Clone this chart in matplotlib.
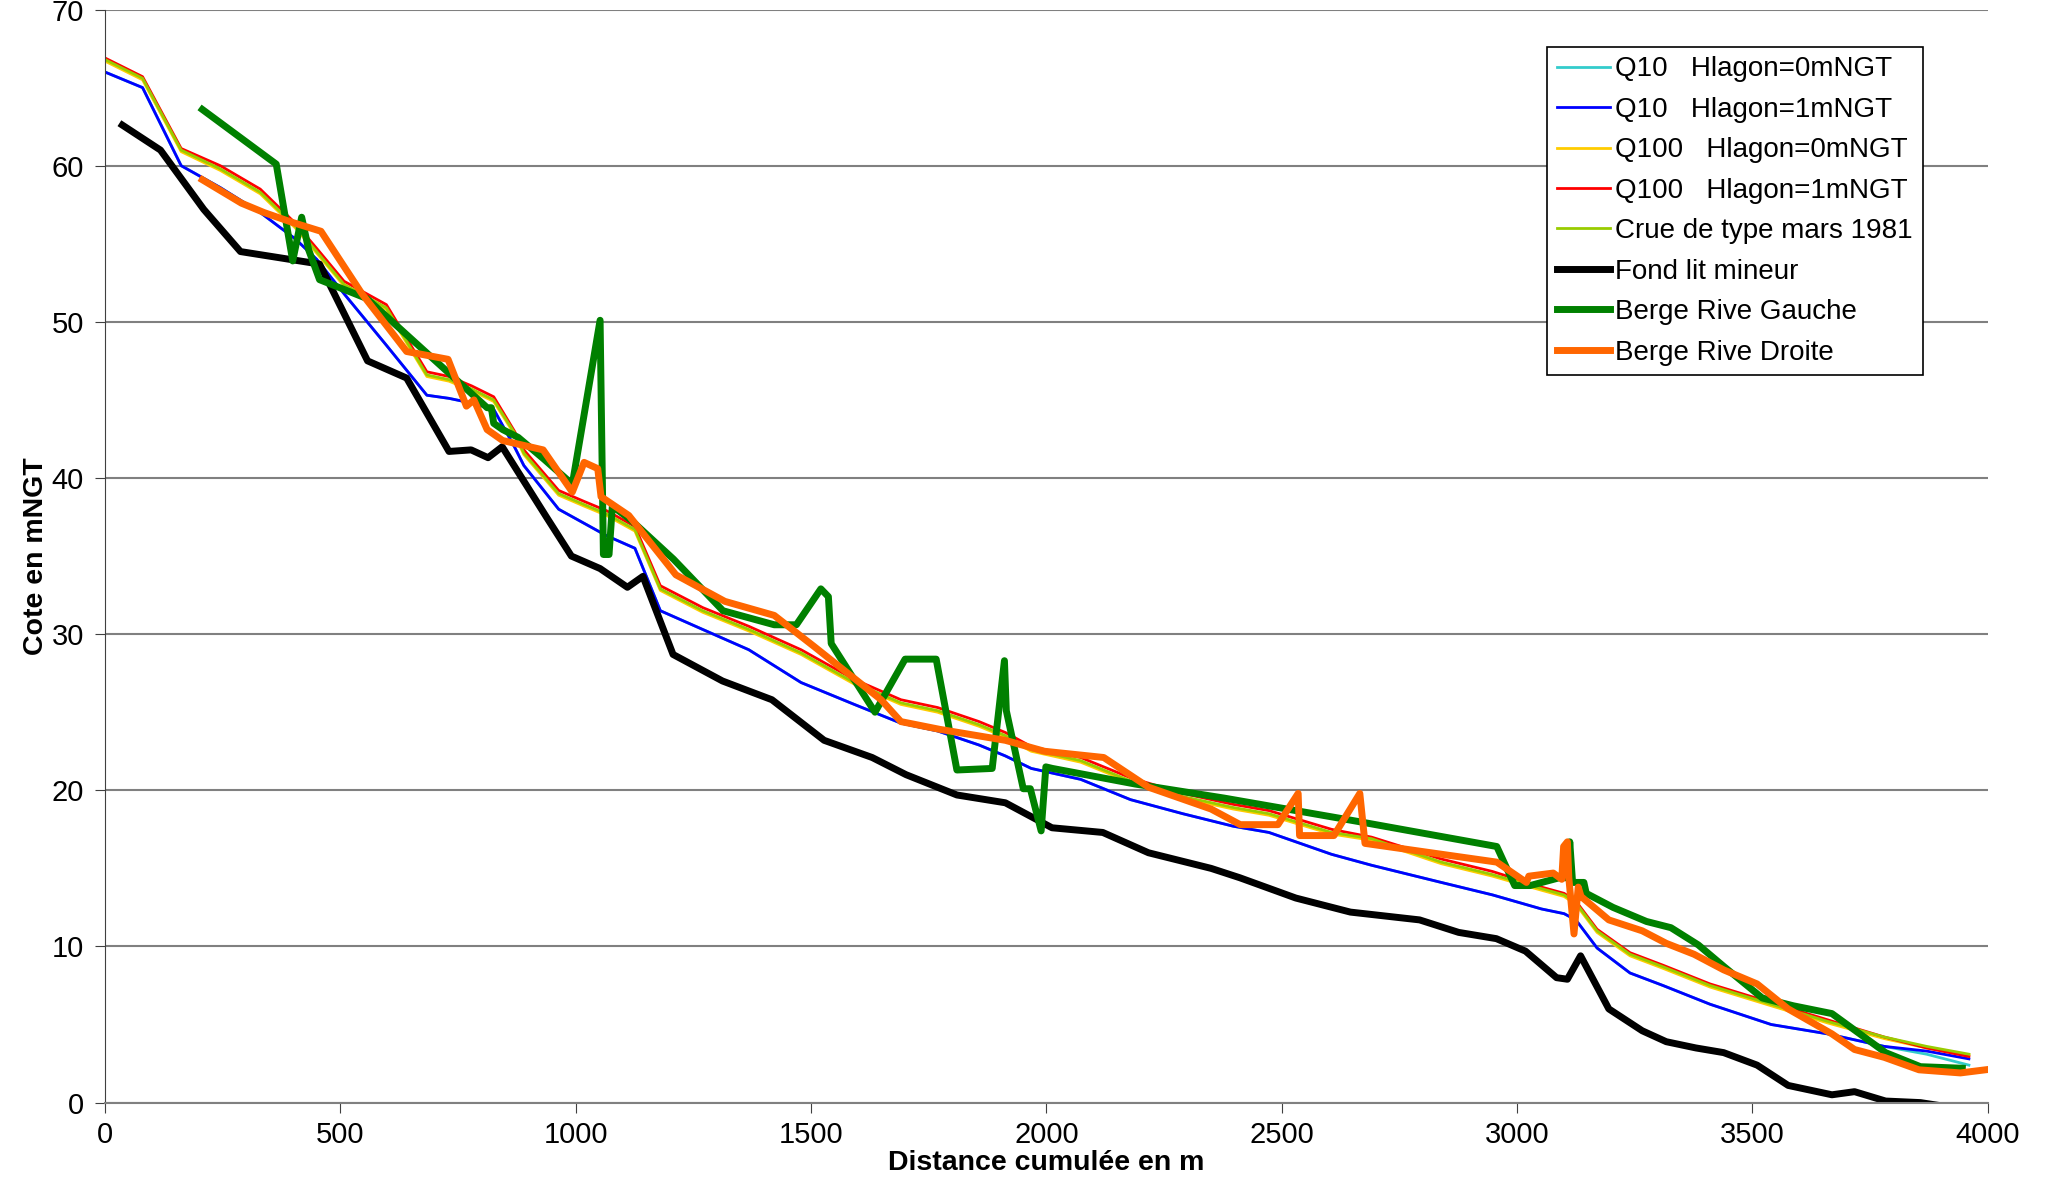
import numpy as np
import matplotlib
matplotlib.use("Agg")
import matplotlib.pyplot as plt

plt.rcParams['font.family'] = ['Liberation Sans', 'DejaVu Sans']

# cross sections shared by the water lines (m)
x_prof = [0, 80, 162, 245, 330, 405, 450, 508, 598, 684, 731, 779, 826, 870,
          890, 964, 1018, 1066, 1126, 1180, 1270, 1368, 1479, 1592, 1691, 1769,
          1857, 1913, 1968, 2073, 2179, 2290, 2397, 2473, 2606, 2691, 2839,
          2948, 3052, 3100, 3125, 3170, 3240, 3310, 3410, 3540, 3660, 3780,
          3870, 3960]

q10_h0 = [66.0, 65.0, 60.0, 58.6, 57.0, 55.3, 54.0, 51.8, 48.5, 45.3, 45.1,
          44.8, 44.4, 42.0, 40.8, 38.0, 37.1, 36.3, 35.5, 31.5, 30.3, 29.0,
          26.9, 25.5, 24.3, 23.8, 22.9, 22.2, 21.4, 20.7, 19.4, 18.5, 17.7,
          17.3, 15.9, 15.2, 14.1, 13.3, 12.4, 12.1, 11.7, 9.9, 8.3, 7.5, 6.3,
          5.0, 4.4, 3.6, 3.1, 2.4]
q10_h1 = [66.0, 65.0, 60.0, 58.6, 57.0, 55.3, 54.0, 51.8, 48.5, 45.3, 45.1,
          44.8, 44.4, 42.0, 40.8, 38.0, 37.1, 36.3, 35.5, 31.5, 30.3, 29.0,
          26.9, 25.5, 24.3, 23.8, 22.9, 22.2, 21.4, 20.7, 19.4, 18.5, 17.7,
          17.3, 15.9, 15.2, 14.1, 13.3, 12.4, 12.1, 11.7, 9.9, 8.3, 7.5, 6.3,
          5.0, 4.4, 3.6, 3.3, 2.8]
q100_h0 = [66.7, 65.5, 60.9, 59.7, 58.2, 56.0, 54.4, 52.3, 50.8, 46.5, 46.2,
           45.6, 44.9, 42.8, 41.5, 38.9, 38.2, 37.6, 36.6, 32.8, 31.4, 30.2,
           28.7, 26.8, 25.5, 25.0, 24.1, 23.4, 22.5, 21.8, 20.5, 19.5, 18.8,
           18.4, 17.2, 16.8, 15.3, 14.5, 13.6, 13.2, 12.7, 10.9, 9.4, 8.6,
           7.4, 6.2, 5.1, 4.1, 3.5, 3.05]
q100_h1 = [66.9, 65.7, 61.1, 60.0, 58.5, 56.3, 54.7, 52.6, 51.1, 46.8, 46.5,
           45.9, 45.2, 43.0, 41.8, 39.2, 38.5, 37.9, 36.9, 33.1, 31.7, 30.5,
           29.0, 27.1, 25.8, 25.3, 24.4, 23.7, 22.8, 22.1, 20.8, 19.8, 19.1,
           18.7, 17.5, 17.0, 15.6, 14.8, 13.8, 13.4, 12.9, 11.1, 9.6, 8.8,
           7.6, 6.4, 5.3, 4.2, 3.5, 2.95]
crue_1981 = [66.8, 65.6, 61.0, 59.8, 58.3, 56.1, 54.5, 52.4, 50.9, 46.6, 46.3,
             45.7, 45.0, 42.9, 41.6, 39.0, 38.3, 37.7, 36.7, 32.9, 31.5, 30.3,
             28.8, 26.9, 25.6, 25.1, 24.2, 23.5, 22.6, 21.9, 20.6, 19.6, 18.9,
             18.5, 17.3, 16.9, 15.4, 14.6, 13.7, 13.3, 12.8, 11.0, 9.5, 8.7,
             7.5, 6.3, 5.2, 4.2, 3.6, 3.1]

x_fond = [37, 118, 210, 288, 456, 558, 641, 731, 778, 814, 844, 938, 991,
          1052, 1110, 1143, 1207, 1312, 1417, 1528, 1630, 1702, 1810, 1913,
          2012, 2120, 2217, 2350, 2411, 2530, 2646, 2793, 2876, 2956, 3018,
          3084, 3107, 3135, 3195, 3266, 3317, 3380, 3439, 3510, 3576, 3669,
          3717, 3783, 3857, 3900]
fond = [62.6, 61.0, 57.2, 54.5, 53.7, 47.5, 46.4, 41.7, 41.8, 41.3, 42.0,
        37.5, 35.0, 34.2, 33.0, 33.7, 28.7, 27.0, 25.8, 23.2, 22.1, 21.0,
        19.7, 19.2, 17.6, 17.3, 16.0, 15.0, 14.4, 13.1, 12.2, 11.7, 10.9,
        10.5, 9.7, 8.0, 7.9, 9.4, 6.0, 4.6, 3.9, 3.5, 3.2, 2.4, 1.1, 0.5,
        0.7, 0.1, 0.0, -0.2]

x_rg = [207, 364, 399, 418, 433, 456, 556, 812, 821, 826, 845, 878, 933,
        993, 1052, 1059, 1071, 1078, 1118, 1208, 1313, 1422, 1469, 1521, 1537,
        1543, 1636, 1700, 1766, 1810, 1885, 1911, 1915, 1951, 1966, 1989,
        1999, 2013, 2189, 2378, 2663, 2957, 2995, 3028, 3090, 3109, 3112,
        3118, 3142, 3147, 3204, 3275, 3327, 3385, 3440, 3521, 3587, 3669,
        3783, 3857, 3946]
rive_gauche = [63.6, 60.1, 53.9, 56.7, 54.6, 52.7, 51.5, 44.5, 44.5, 43.5,
               43.1, 42.6, 41.2, 39.6, 50.1, 35.1, 35.1, 38.2, 37.3, 34.8,
               31.5, 30.6, 30.6, 32.9, 32.4, 29.4, 25.0, 28.4, 28.4, 21.3,
               21.4, 28.3, 25.1, 20.1, 20.1, 17.4, 21.5, 21.4, 20.4, 19.5,
               18.0, 16.4, 13.9, 13.9, 14.4, 14.4, 16.7, 14.1, 14.1, 13.4,
               12.5, 11.6, 11.2, 10.1, 8.7, 6.7, 6.2, 5.7, 3.2, 2.3, 2.2]

x_rd = [207, 290, 338, 395, 459, 546, 641, 729, 768, 784, 812, 845, 931,
        993, 1018, 1047, 1054, 1113, 1213, 1317, 1422, 1507, 1649, 1691,
        1774, 1913, 1996, 2122, 2217, 2350, 2412, 2492, 2535, 2538, 2611,
        2666, 2677, 2957, 3020, 3025, 3077, 3095, 3099, 3107, 3110, 3121,
        3130, 3136, 3195, 3266, 3317, 3376, 3439, 3510, 3576, 3669, 3717,
        3780, 3854, 3942, 3995]
rive_droite = [59.1, 57.6, 57.0, 56.4, 55.8, 51.8, 48.1, 47.6, 44.6, 45.0,
               43.1, 42.4, 41.8, 39.1, 41.0, 40.6, 38.8, 37.6, 33.8, 32.1,
               31.2, 29.2, 25.8, 24.4, 23.9, 23.2, 22.5, 22.1, 20.2, 18.8,
               17.8, 17.8, 19.8, 17.1, 17.1, 19.8, 16.6, 15.4, 14.1, 14.5,
               14.7, 14.3, 16.4, 16.7, 14.4, 10.8, 13.8, 13.2, 11.7, 11.0,
               10.2, 9.5, 8.5, 7.6, 6.0, 4.4, 3.4, 2.9, 2.1, 1.9, 2.1]

fig = plt.figure(figsize=(20.45, 11.92), dpi=100)
ax = fig.add_axes([0.0513, 0.075, 0.9207, 0.917])

ax.plot(x_prof, q10_h0, color='#33CCCC', lw=2, label='Q10   Hlagon=0mNGT')
ax.plot(x_prof, q10_h1, color='#0000FF', lw=2, label='Q10   Hlagon=1mNGT')
ax.plot(x_prof, q100_h0, color='#FFCC00', lw=2, label='Q100   Hlagon=0mNGT')
ax.plot(x_prof, q100_h1, color='#FF0000', lw=2, label='Q100   Hlagon=1mNGT')
ax.plot(x_prof, crue_1981, color='#99CC00', lw=2, label='Crue de type mars 1981')
ax.plot(x_fond, fond, color='black', lw=5, label='Fond lit mineur')
ax.plot(x_rg, rive_gauche, color='#008000', lw=5, label='Berge Rive Gauche')
ax.plot(x_rd, rive_droite, color='#FF6600', lw=5, label='Berge Rive Droite')

ax.set_xlim(0, 4000)
ax.set_ylim(0, 70)
ax.set_xticks(np.arange(0, 4001, 500))
ax.set_yticks(np.arange(0, 71, 10))
ax.yaxis.grid(True, color='#808080', lw=1.5)
ax.set_axisbelow(True)
for s in ['top', 'right']:
    ax.spines[s].set_visible(False)
ax.spines['left'].set_color('#404040')
ax.spines['bottom'].set_color('#808080')
ax.spines['bottom'].set_linewidth(1.5)
ax.tick_params(axis='x', labelsize=21, length=7, color='#404040', pad=6)
ax.tick_params(axis='y', labelsize=21, length=7, color='#404040', pad=8)

ax.set_xlabel('Distance cumulée en m', fontsize=20.5, fontweight='bold', labelpad=1)
ax.set_ylabel('Cote en mNGT', fontsize=20.5, fontweight='bold', labelpad=2)

leg = ax.legend(loc='upper left', bbox_to_anchor=(0.766, 0.966), fontsize=20,
                frameon=True, fancybox=False, edgecolor='black', framealpha=1,
                handlelength=1.9, handletextpad=0.2, labelspacing=0.52,
                borderpad=0.35, borderaxespad=0)
leg.get_frame().set_linewidth(1.2)

fig.savefig('out.png', dpi=100)
